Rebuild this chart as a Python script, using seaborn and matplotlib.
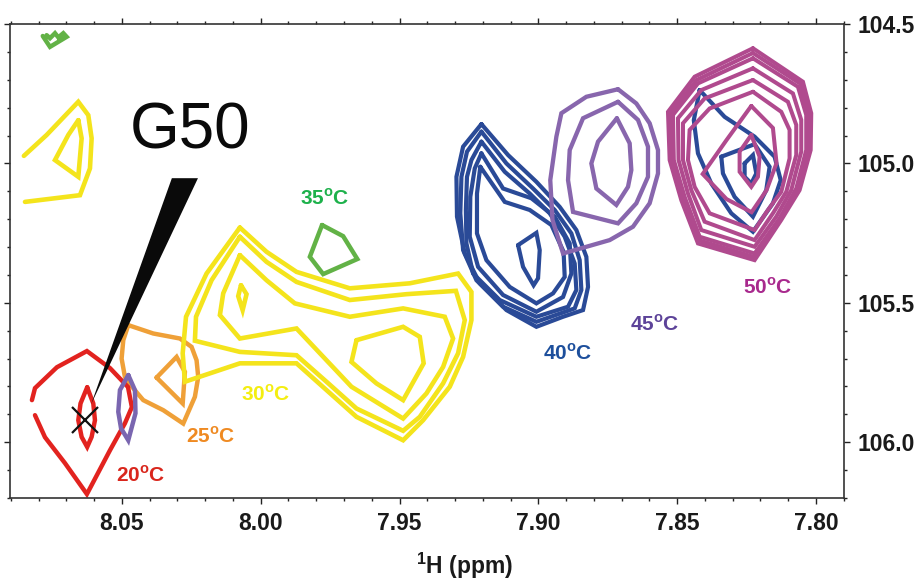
import matplotlib
matplotlib.use("Agg")
import matplotlib.pyplot as plt
from matplotlib.patches import Polygon
from matplotlib.ticker import MultipleLocator, FormatStrFormatter
import pandas as pd
import seaborn as sns

# Cross-peak contours of G50 in the 1H-15N spectrum, one set per temperature.
# Every contour is a list of (1H ppm, 15N ppm) vertices; closed contours are
# joined back to their first vertex when drawn.

# 20 °C
t20_outer = [(8.0824, 105.849), (8.0813, 105.806), (8.0734, 105.731), (8.0626, 105.673),
             (8.0543, 105.734), (8.0478, 105.802), (8.0464, 105.874), (8.0489, 105.932),
             (8.0543, 106.029), (8.0626, 106.186), (8.0705, 106.075), (8.0777, 105.982),
             (8.0813, 105.903)]
t20_inner = [(8.0625, 105.803), (8.0603, 105.861), (8.0597, 105.921), (8.0609, 105.981),
             (8.0625, 106.017), (8.0645, 105.981), (8.0657, 105.921), (8.0649, 105.861)]

# 25 °C
t25_outer = [(8.0477, 105.580), (8.0387, 105.610), (8.0291, 105.628), (8.0249, 105.658),
             (8.0231, 105.706), (8.0225, 105.766), (8.0237, 105.837), (8.0279, 105.933),
             (8.0351, 105.885), (8.0423, 105.849), (8.0459, 105.807), (8.0489, 105.766),
             (8.0501, 105.700), (8.0495, 105.634)]
t25_inner = [(8.0375, 105.768), (8.0303, 105.694), (8.0273, 105.748), (8.0281, 105.861)]

# 30 °C
t30_ring1 = [(8.0075, 105.230), (7.9979, 105.317), (7.9871, 105.389), (7.9679, 105.448),
             (7.9463, 105.430), (7.9289, 105.395), (7.9241, 105.461), (7.9241, 105.562),
             (7.9271, 105.694), (7.9319, 105.801), (7.9415, 105.921), (7.9487, 105.993),
             (7.9655, 105.909), (7.9763, 105.813), (7.9871, 105.717), (8.0075, 105.717),
             (8.0273, 105.783), (8.0281, 105.681), (8.0269, 105.550), (8.0195, 105.395)]
t30_ring2 = [(8.0075, 105.263), (7.9979, 105.353), (7.9871, 105.425), (7.9679, 105.490),
             (7.9475, 105.469), (7.9297, 105.457), (7.9265, 105.562), (7.9289, 105.681),
             (7.9343, 105.789), (7.9427, 105.909), (7.9487, 105.959), (7.9655, 105.879),
             (7.9763, 105.783), (7.9871, 105.688), (8.0075, 105.676), (8.0237, 105.636),
             (8.0233, 105.550), (8.0177, 105.419)]
t30_ring3 = [(8.0075, 105.329), (7.9979, 105.419), (7.9877, 105.502), (7.9679, 105.550),
             (7.9487, 105.520), (7.9337, 105.550), (7.9307, 105.628), (7.9343, 105.730),
             (7.9403, 105.825), (7.9487, 105.915), (7.9673, 105.801), (7.9763, 105.706),
             (7.9871, 105.592), (8.0075, 105.628), (8.0147, 105.544), (8.0135, 105.466)]
t30_ring4 = [(8.0071, 105.437), (8.0051, 105.469), (8.0065, 105.526), (8.0081, 105.476)]
t30_ring5 = [(7.9655, 105.634), (7.9487, 105.586), (7.9427, 105.622), (7.9413, 105.717),
             (7.9487, 105.849), (7.9583, 105.789), (7.9673, 105.712)]
t30_side_outer = [(8.0853, 104.973), (8.0771, 104.898), (8.0657, 104.779), (8.0621, 104.827),
                  (8.0609, 104.910), (8.0615, 105.018), (8.0651, 105.114), (8.0849, 105.138)]
t30_side_inner = [(8.0657, 104.845), (8.0645, 104.910), (8.0657, 105.048), (8.0741, 104.988),
                  (8.0693, 104.898)]

# 35 °C
t35_peak = [(7.9779, 105.221), (7.9703, 105.261), (7.9652, 105.343), (7.9775, 105.397),
            (7.9823, 105.335)]
t35_edge = [(8.0785, 104.543), (8.0759, 104.582), (8.0699, 104.546), (8.0711, 104.533),
            (8.0729, 104.548), (8.0741, 104.533), (8.0759, 104.551), (8.0771, 104.540)]

# 40 °C
t40_ring1 = [(7.9205, 104.859), (7.9109, 104.970), (7.9007, 105.066), (7.8923, 105.156),
             (7.8863, 105.239), (7.8827, 105.335), (7.8821, 105.443), (7.8839, 105.526),
             (7.8911, 105.550), (7.9007, 105.586), (7.9115, 105.526), (7.9211, 105.430),
             (7.9265, 105.323), (7.9293, 105.191), (7.9295, 105.048), (7.9271, 104.940)]
t40_ring2 = [(7.9205, 104.886), (7.9115, 105.000), (7.9019, 105.090), (7.8941, 105.167),
             (7.8881, 105.251), (7.8851, 105.347), (7.8845, 105.454), (7.8869, 105.520),
             (7.9007, 105.568), (7.9127, 105.514), (7.9223, 105.419), (7.9271, 105.311),
             (7.9281, 105.179), (7.9277, 105.048), (7.9257, 104.958)]
t40_ring3 = [(7.9205, 104.922), (7.9121, 105.030), (7.9031, 105.108), (7.8959, 105.179),
             (7.8905, 105.263), (7.8869, 105.359), (7.8863, 105.454), (7.8893, 105.514),
             (7.9007, 105.550), (7.9139, 105.490), (7.9235, 105.395), (7.9259, 105.287),
             (7.9261, 105.167), (7.9257, 105.048), (7.9241, 104.988)]
t40_ring4 = [(7.9205, 104.964), (7.9127, 105.090), (7.9025, 105.125), (7.8941, 105.191),
             (7.8887, 105.287), (7.8881, 105.395), (7.8911, 105.479), (7.9007, 105.532),
             (7.9127, 105.472), (7.9217, 105.371), (7.9247, 105.263), (7.9245, 105.120),
             (7.9229, 105.018)]
t40_ring5 = [(7.9209, 105.012), (7.9121, 105.138), (7.9031, 105.167), (7.8953, 105.221),
             (7.8909, 105.317), (7.8905, 105.407), (7.8947, 105.466), (7.9007, 105.502),
             (7.9103, 105.443), (7.9187, 105.347), (7.9221, 105.251), (7.9221, 105.108)]
t40_core = [(7.9073, 105.293), (7.9007, 105.249), (7.8995, 105.311), (7.9001, 105.412),
            (7.9017, 105.437), (7.9055, 105.371)]
t40_far1 = [(7.8419, 104.737), (7.8329, 104.833), (7.8221, 104.904), (7.8149, 104.976),
            (7.8127, 105.060), (7.8155, 105.143), (7.8227, 105.245), (7.8305, 105.179),
            (7.8377, 105.072), (7.8425, 104.964), (7.8440, 104.845)]
t40_far2 = [(7.8341, 104.976), (7.8221, 104.931), (7.8167, 105.012), (7.8179, 105.096),
            (7.8227, 105.191), (7.8293, 105.120), (7.8335, 105.036)]
t40_far3 = [(7.8257, 105.000), (7.8227, 104.970), (7.8215, 105.036), (7.8233, 105.072),
            (7.8257, 105.048)]

# 45 °C
t45_ring1 = [(7.8713, 104.734), (7.8647, 104.785), (7.8599, 104.856), (7.8569, 104.952),
             (7.8569, 105.036), (7.8599, 105.143), (7.8659, 105.227), (7.8743, 105.275),
             (7.8911, 105.323), (7.8949, 105.203), (7.8957, 105.060), (7.8935, 104.904),
             (7.8917, 104.820), (7.8827, 104.761)]
t45_ring2 = [(7.8713, 104.779), (7.8641, 104.844), (7.8605, 104.940), (7.8605, 105.048),
             (7.8647, 105.143), (7.8713, 105.215), (7.8875, 105.174), (7.8893, 105.060),
             (7.8887, 104.952), (7.8839, 104.838)]
t45_ring3 = [(7.8717, 104.838), (7.8671, 104.928), (7.8665, 105.024), (7.8677, 105.084),
             (7.8719, 105.149), (7.8791, 105.090), (7.8809, 105.000), (7.8785, 104.922)]
t45_minor = [(8.0477, 105.759), (8.0453, 105.813), (8.0451, 105.896), (8.0477, 105.993),
             (8.0503, 105.950), (8.0513, 105.891), (8.0507, 105.813)]

# 50 °C
t50_ring1 = [(7.8227, 104.587), (7.8047, 104.707), (7.8017, 104.820), (7.8019, 104.952),
             (7.8059, 105.096), (7.8125, 105.203), (7.8221, 105.347), (7.8425, 105.287),
             (7.8485, 105.132), (7.8527, 104.988), (7.8533, 104.815), (7.8437, 104.689)]
t50_ring1b = [(7.8227, 104.604), (7.8055, 104.715), (7.8027, 104.823), (7.8027, 104.952),
              (7.8066, 105.092), (7.8127, 105.200), (7.8221, 105.336), (7.8423, 105.275),
              (7.8480, 105.124), (7.8520, 104.988), (7.8523, 104.819), (7.8430, 104.701)]
t50_ring2 = [(7.8227, 104.623), (7.8065, 104.725), (7.8035, 104.826), (7.8035, 104.952),
             (7.8071, 105.090), (7.8131, 105.197), (7.8221, 105.323), (7.8419, 105.263),
             (7.8473, 105.120), (7.8512, 104.988), (7.8515, 104.826), (7.8425, 104.713)]
t50_ring3 = [(7.8227, 104.659), (7.8083, 104.749), (7.8053, 104.844), (7.8053, 104.958),
             (7.8089, 105.096), (7.8143, 105.191), (7.8221, 105.299), (7.8413, 105.239),
             (7.8461, 105.108), (7.8495, 104.988), (7.8497, 104.838), (7.8413, 104.737)]
t50_ring4 = [(7.8227, 104.701), (7.8101, 104.779), (7.8071, 104.862), (7.8071, 104.970),
             (7.8107, 105.102), (7.8155, 105.179), (7.8221, 105.275), (7.8401, 105.209),
             (7.8449, 105.096), (7.8479, 104.988), (7.8479, 104.856), (7.8401, 104.767)]
t50_ring5 = [(7.8227, 104.743), (7.8125, 104.815), (7.8095, 104.880), (7.8095, 104.982),
             (7.8125, 105.102), (7.8173, 105.167), (7.8221, 105.239), (7.8383, 105.179),
             (7.8437, 105.084), (7.8461, 104.988), (7.8455, 104.880), (7.8383, 104.803)]
t50_ring6 = [(7.8233, 104.794), (7.8155, 104.873), (7.8142, 104.999), (7.8178, 105.096),
             (7.8232, 105.175), (7.8322, 105.128), (7.8408, 105.038), (7.8322, 104.916)]
t50_core = [(7.8233, 104.898), (7.8203, 104.976), (7.8209, 105.048), (7.8233, 105.084),
            (7.8275, 105.030), (7.8275, 104.958)]

# contour sets in drawing order: (temperature, colour, line width, [(contour, closed), ...])
contour_sets = [
    ("25", "#efa038", 3.2, [(t25_outer, True), (t25_inner, True)]),
    ("20", "#e2231f", 3.2, [(t20_outer, False), (t20_inner, True)]),
    ("45m", "#7a66b0", 3.2, [(t45_minor, True)]),
    ("30", "#f4e41c", 3.3, [(t30_ring1, True), (t30_ring2, True), (t30_ring3, True),
                           (t30_ring4, True), (t30_ring5, True),
                           (t30_side_outer, False), (t30_side_inner, True)]),
    ("35", "#62b246", 3.2, [(t35_peak, True), (t35_edge, False)]),
    ("40", "#2a4a97", 3.0, [(t40_ring1, True), (t40_ring2, True), (t40_ring3, True),
                           (t40_ring4, True), (t40_ring5, True), (t40_core, True),
                           (t40_far1, True), (t40_far2, True), (t40_far3, True)]),
    ("45", "#8866ad", 3.1, [(t45_ring1, True), (t45_ring2, True), (t45_ring3, True)]),
    ("50", "#b04a8e", 2.9, [(t50_ring1, True), (t50_ring1b, True), (t50_ring2, True),
                           (t50_ring3, True), (t50_ring4, True), (t50_ring5, True),
                           (t50_ring6, True), (t50_core, True)]),
]

# temperature labels: text, colour, (1H, 15N) position
temp_labels = [
    ("20", "#d9261c", (8.0431, 106.118)),
    ("25", "#ef8a22", (8.0179, 105.978)),
    ("30", "#f4ee10", (7.9981, 105.828)),
    ("35", "#1db14b", (7.9769, 105.124)),
    ("40", "#1d4f9c", (7.8894, 105.681)),
    ("45", "#5d4399", (7.8581, 105.576)),
    ("50", "#a8298d", (7.8174, 105.444)),
]

# G50 assignment at 20 °C and its pointer
g50_peak = (8.0633, 105.921)
g50_pointer_tip = (8.0611, 105.864)
g50_pointer_base = (8.0273, 105.053)
g50_pointer_halfwidth = 0.0047
g50_text_pos = (8.0255, 104.884)

x_limits = (8.0903, 7.7899)
y_limits = (106.2, 104.5)


def to_frame(key, contours):
    rows = []
    for cid, (pts, closed) in enumerate(contours):
        seq = list(pts) + ([pts[0]] if closed else [])
        for order, (h, n) in enumerate(seq):
            rows.append({"temp": key, "contour": cid, "order": order, "h1": h, "n15": n})
    return pd.DataFrame(rows)


sns.set_theme(style="ticks")
plt.rcParams["font.family"] = ["Liberation Sans", "DejaVu Sans"]
plt.rcParams["mathtext.fontset"] = "custom"
plt.rcParams["mathtext.rm"] = "Liberation Sans"
plt.rcParams["mathtext.bf"] = "Liberation Sans:bold"

fig = plt.figure(figsize=(9.15, 5.81), dpi=100)
ax = fig.add_axes([10 / 915, 1 - 498 / 581, 834 / 915, 474 / 581])

for key, colour, lw, contours in contour_sets:
    df = to_frame(key, contours)
    sns.lineplot(data=df, x="h1", y="n15", units="contour", estimator=None, sort=False,
                 color=colour, lw=lw, legend=False, ax=ax, solid_joinstyle="miter")

# pointer wedge from the label to the 20 °C peak
bx, by = g50_pointer_base
wedge = Polygon([(bx + g50_pointer_halfwidth, by), (bx - g50_pointer_halfwidth, by),
                 g50_pointer_tip], closed=True, facecolor="#0a0a0a", edgecolor="none",
                zorder=5)
ax.add_patch(wedge)
ax.plot([g50_peak[0]], [g50_peak[1]], marker="x", ms=19, mew=1.6, color="#111111",
        zorder=6)
ax.text(*g50_text_pos, "G50", fontsize=46, ha="center", va="center", color="#0a0a0a",
        zorder=6)

for t, colour, (h, n) in temp_labels:
    ax.text(h, n, t + r"$^{\mathbf{o}}$C", color=colour, fontsize=15, fontweight="bold",
            ha="center", va="center", zorder=6)

ax.set_xlim(*x_limits)
ax.set_ylim(*y_limits)

ax.xaxis.set_major_locator(MultipleLocator(0.05))
ax.xaxis.set_minor_locator(MultipleLocator(0.01))
ax.xaxis.set_major_formatter(FormatStrFormatter("%.2f"))
ax.yaxis.set_major_locator(MultipleLocator(0.5))
ax.yaxis.set_minor_locator(MultipleLocator(0.1))
ax.yaxis.set_major_formatter(FormatStrFormatter("%.1f"))

ax.tick_params(which="both", direction="out", top=True, bottom=True, left=True, right=True,
               labelleft=False, labelright=True, colors="#222222", width=1.0)
ax.tick_params(which="major", length=4, labelsize=16.5, pad=6)
ax.tick_params(which="minor", length=2.5)
for lab in ax.get_xticklabels() + ax.get_yticklabels():
    lab.set_fontweight("bold")
    lab.set_color("#1a1a1a")

for sp in ax.spines.values():
    sp.set_visible(True)
    sp.set_linewidth(1.2)
    sp.set_color("#333333")

ax.set_ylabel("")
ax.set_xlabel(r"$^{\mathbf{1}}$H (ppm)", fontsize=16.5, fontweight="bold", color="#1a1a1a")
ax.xaxis.set_label_coords(0.5456, -0.112)
ax.set_facecolor("white")
fig.patch.set_facecolor("white")

fig.savefig("out.png", dpi=100)
